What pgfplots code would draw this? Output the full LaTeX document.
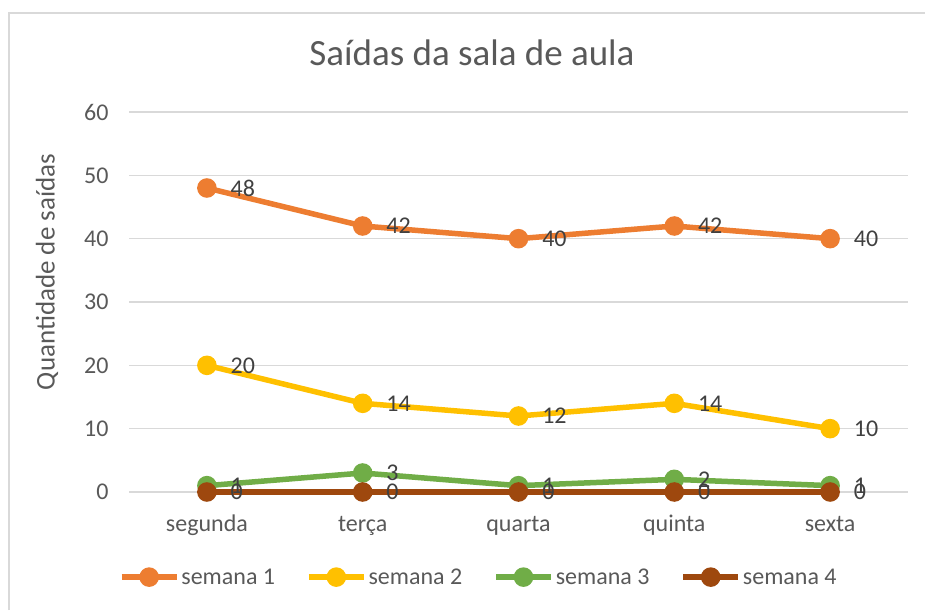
\documentclass[border=0pt]{standalone}
\usepackage{pgfplots}
\pgfplotsset{compat=1.18}
\usepackage{fontspec}
\setmainfont{Carlito}
\definecolor{s1}{HTML}{ED7D31}
\definecolor{s2}{HTML}{FFC000}
\definecolor{s3}{HTML}{70AD47}
\definecolor{s4}{HTML}{9E480E}
\definecolor{gridc}{HTML}{D9D9D9}
\definecolor{txt}{HTML}{595959}
\definecolor{lbl}{HTML}{404040}
\begin{document}
\begin{tikzpicture}[x=1pt,y=1pt]
\useasboundingbox (0,0) rectangle (925,610);
\draw[gridc, line width=1.5pt] (9,0) -- (9,597) -- (925,597);
\begin{axis}[
  at={(129pt,118pt)}, anchor=south west,
  scale only axis, width=779pt, height=380pt,
  xmin=-0.5, xmax=4.5, ymin=0, ymax=60,
  xtick={0,1,2,3,4},
  xticklabels={segunda,terça,quarta,quinta,sexta},
  ytick={0,10,...,60},
  ymajorgrids,
  major grid style={gridc, line width=1.5pt},
  axis line style={draw=none},
  tick style={draw=none},
  clip=false,
  /pgf/number format/assume math mode=true,
  ticklabel style={font=\fontsize{24}{28}\selectfont, text=txt},
  xticklabel style={anchor=base, yshift=-39pt},
  yticklabel style={anchor=east, xshift=-17pt},
  title={Saídas da sala de aula},
  title style={at={(axis description cs:0.4403,1)}, anchor=base, yshift=40pt, font=\fontsize{37}{44}\selectfont, text=txt},
  ylabel={Quantidade de saídas},
  ylabel style={at={(axis description cs:-0.1053,0.579)}, anchor=center, rotate=0, font=\fontsize{27}{32}\selectfont, text=txt},
  every axis plot/.append style={line width=5.5pt, mark=*, mark size=7pt, mark options={solid}},
  nodes near coords,
  nodes near coords style={anchor=west, xshift=20pt, inner sep=1pt, font=\fontsize{24}{28}\selectfont, text=lbl},
  point meta=explicit symbolic,
  legend columns=4,
  legend style={at={(axis description cs:0.449,-0.224)}, anchor=center, draw=none, fill=none,
    font=\fontsize{24}{28}\selectfont, text=txt,
    nodes={inner sep=2pt},
    /tikz/every even column/.append style={column sep=29pt}},
  legend image code/.code={\draw[mark repeat=2, mark phase=2, #1] plot coordinates {(0pt,0pt) (27.5pt,0pt) (55pt,0pt)};},
]
\addplot[color=s1] coordinates {(0,48)[48] (1,42)[42] (2,40)[40] (3,42)[42] (4,40)[40]};
\addlegendentry{semana 1}
\addplot[color=s2] coordinates {(0,20)[20] (1,14)[14] (2,12)[12] (3,14)[14] (4,10)[10]};
\addlegendentry{semana 2}
\addplot[color=s3] coordinates {(0,1)[1] (1,3)[3] (2,1)[1] (3,2)[2] (4,1)[1]};
\addlegendentry{semana 3}
\addplot[color=s4] coordinates {(0,0)[0] (1,0)[0] (2,0)[0] (3,0)[0] (4,0)[0]};
\addlegendentry{semana 4}
\end{axis}
\end{tikzpicture}
\end{document}
